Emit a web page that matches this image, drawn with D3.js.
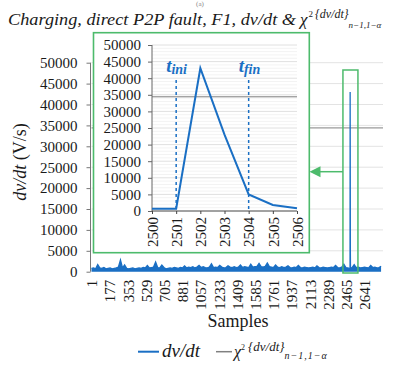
<!DOCTYPE html>
<html>
<head>
<meta charset="utf-8">
<script src="https://cdn.jsdelivr.net/npm/d3@7"></script>
<style>
  html, body { margin: 0; padding: 0; background: #fff; }
</style>
</head>
<body>
<div id="chart"></div>
<script>
// total number of samples on the category axis
const sampleCount = 2810;

// dv/dt noise envelope, one value every 20 samples (1, 21, 41, ...)
const noiseStep = 20;
const noiseValues = [
  800, 900, 700, 1700, 900, 800, 1000, 700, 800, 900,
  700, 800, 900, 1100, 2800, 900, 1600, 800, 700, 800,
  900, 700, 800, 900, 800, 1000, 900, 1500, 900, 1000,
  1100, 2300, 1000, 900, 1600, 1000, 700, 800, 900, 800,
  1000, 900, 800, 1000, 900, 1400, 900, 1100, 1000, 1200,
  900, 1100, 1500, 1000, 1200, 1000, 900, 1100, 1900, 1000,
  1100, 1000, 1500, 1100, 900, 1000, 1400, 1100, 1000, 1200,
  1000, 1100, 1600, 1000, 1200, 1100, 1000, 1800, 1100, 1200,
  1300, 2000, 1200, 1100, 1300, 2100, 1200, 1100, 1000, 1600,
  1100, 1000, 1200, 1000, 1100, 1400, 1000, 900, 1100, 1000,
  1500, 1000, 900, 1100, 1000, 900, 1000, 1100, 900, 1400,
  1000, 900, 1100, 1000, 900, 1000, 1100, 1000, 1500, 1000,
  900, 1100, 1800, 1000, 900, 800, 1000, 1700, 1000, 1100,
  900, 1000, 1100, 1000, 900, 1500, 1000, 1100, 900, 1000,
  1300
];

// fault window (zoomed in the inset)
const faultSamples = [2500, 2501, 2502, 2503, 2504, 2505, 2506];
const faultValues = [700, 700, 43000, 23000, 5000, 1800, 800];

// chi-square threshold
const threshold = 34400;
const tIni = 2501;
const tFin = 2504;

const yTicks = [0, 5000, 10000, 15000, 20000, 25000, 30000, 35000, 40000, 45000, 50000];
const xTickLabels = [1, 177, 353, 529, 705, 881, 1057, 1233, 1409, 1585, 1761, 1937, 2113, 2289, 2465, 2641];
const insetTicks = [2500, 2501, 2502, 2503, 2504, 2505, 2506];

const blue = '#1a6fc4';
const green = '#4dbb6c';
const grey = '#808080';
const serif = '"Liberation Serif", "Times New Roman", serif';
const fmt = d3.format('d');

const svg = d3.select('#chart').append('svg')
  .attr('width', 402)
  .attr('height', 367);

// ---------- main chart ----------
const x = d3.scaleLinear().domain([1, sampleCount]).range([91.5, 382]);
const y = d3.scaleLinear().domain([0, 50000]).range([271.7, 62.7]);

// gridlines
svg.append('g')
  .selectAll('line')
  .data(yTicks.filter(d => d > 0))
  .join('line')
  .attr('x1', x.range()[0]).attr('x2', x.range()[1] + 1)
  .attr('y1', d => y(d)).attr('y2', d => y(d))
  .attr('stroke', '#e3e3e3').attr('stroke-width', 1);

// threshold
svg.append('line')
  .attr('x1', x.range()[0]).attr('x2', x.range()[1] + 1)
  .attr('y1', y(threshold)).attr('y2', y(threshold))
  .attr('stroke', grey).attr('stroke-width', 1);

// merged dv/dt series
const series = noiseValues
  .map((v, i) => ({ s: 1 + i * noiseStep, v }))
  .filter(d => d.s < faultSamples[0] - 5 || d.s > faultSamples[faultSamples.length - 1] + 5)
  .concat(faultSamples.map((s, i) => ({ s, v: faultValues[i] })))
  .sort((a, b) => a.s - b.s);

svg.append('path')
  .datum(series)
  .attr('fill', blue)
  .attr('d', d3.area().x(d => x(d.s)).y0(y(0)).y1(d => y(d.v)));

svg.append('path')
  .datum(series)
  .attr('fill', 'none')
  .attr('stroke', blue)
  .attr('stroke-width', 1.3)
  .attr('d', d3.line().x(d => x(d.s)).y(d => y(d.v)));

// y axis
const yAxisG = svg.append('g').attr('transform', `translate(${x.range()[0] - 1},0)`);
yAxisG.call(d3.axisLeft(y).tickValues(d3.range(0, 50001, 1000)).tickSize(4).tickFormat(''));
yAxisG.call(d3.axisLeft(y).tickValues(yTicks).tickSize(4).tickPadding(9).tickFormat(fmt));
yAxisG.selectAll('line, path').attr('stroke', '#777');
yAxisG.select('.domain').attr('d', `M0,${y(0)}V${y(50000)}`);
yAxisG.selectAll('text').style('font-size', '15px');

// x axis labels
const xAxisG = svg.append('g').attr('transform', `translate(0,${y(0)})`);
xAxisG.call(d3.axisBottom(x).tickValues(xTickLabels).tickSize(0).tickFormat(fmt));
xAxisG.select('.domain').remove();
xAxisG.selectAll('text')
  .attr('transform', 'rotate(-90)')
  .attr('text-anchor', 'end')
  .attr('x', -8).attr('y', 0).attr('dy', '0.35em')
  .style('font-size', '15px');

// axis titles
svg.append('text')
  .attr('x', 238).attr('y', 327)
  .attr('text-anchor', 'middle')
  .style('font-size', '18px')
  .text('Samples');

const yTitle = svg.append('text')
  .attr('transform', 'translate(26,162) rotate(-90)')
  .attr('text-anchor', 'middle')
  .style('font-size', '18px');
yTitle.append('tspan').style('font-style', 'italic').text('dv/dt');
yTitle.append('tspan').text(' (V/s)');

// title
svg.append('text').attr('x', 200).attr('y', 6).attr('text-anchor', 'middle')
  .style('font-size', '7px').style('fill', '#888').text('(a)');
svg.append('text')
  .attr('x', 8).attr('y', 25)
  .attr('textLength', 288).attr('lengthAdjust', 'spacingAndGlyphs')
  .style('font-style', 'italic')
  .style('font-size', '17px')
  .text('Charging, direct P2P fault, F1, dv/dt &');
const title = svg.append('text')
  .attr('x', 300).attr('y', 25)
  .style('font-style', 'italic')
  .style('font-size', '17px');
title.append('tspan').text('χ');
title.append('tspan').attr('dy', -8).attr('dx', 1).style('font-size', '9px').style('font-style', 'normal').text('2');
title.append('tspan').attr('dy', 1).attr('dx', 2).style('font-size', '12px').text('{dv/dt}');
title.append('tspan').attr('dy', 10).style('font-size', '9px').text('n−1,1−α');

// highlight box around the fault and arrow to the inset
svg.append('rect')
  .attr('x', x(faultSamples[0]) - 7).attr('y', 70)
  .attr('width', 15).attr('height', 203)
  .attr('fill', 'none').attr('stroke', green).attr('stroke-width', 1.5);

svg.append('line')
  .attr('x1', x(faultSamples[0]) - 7).attr('x2', 318)
  .attr('y1', 171.7).attr('y2', 171.7)
  .attr('stroke', green).attr('stroke-width', 1.5);
svg.append('path')
  .attr('d', 'M309.5,171.7 L320.5,166.2 L320.5,177.2 Z')
  .attr('fill', green);

// ---------- inset ----------
svg.append('rect')
  .attr('x', 93.5).attr('y', 32.7)
  .attr('width', 215.8).attr('height', 220)
  .attr('fill', '#fff').attr('stroke', green).attr('stroke-width', 1.6);

const ix = d3.scaleLinear().domain([2500, 2506]).range([152, 297]);
const iy = d3.scaleLinear().domain([0, 50000]).range([211, 45]);

svg.append('g')
  .selectAll('line')
  .data(d3.range(1000, 50001, 1000))
  .join('line')
  .attr('x1', ix.range()[0]).attr('x2', ix.range()[1])
  .attr('y1', d => iy(d)).attr('y2', d => iy(d))
  .attr('stroke', d => d % 5000 === 0 ? '#e0e0e0' : '#f3f3f3')
  .attr('stroke-width', 1);

svg.append('line')
  .attr('x1', ix.range()[0]).attr('x2', ix.range()[1])
  .attr('y1', iy(threshold)).attr('y2', iy(threshold))
  .attr('stroke', grey).attr('stroke-width', 1);

const iyAxis = svg.append('g').attr('transform', `translate(${ix.range()[0]},0)`);
iyAxis.call(d3.axisLeft(iy).tickValues(d3.range(0, 50001, 1000)).tickSize(4).tickFormat(''));
iyAxis.call(d3.axisLeft(iy).tickValues(yTicks).tickSize(4).tickPadding(7).tickFormat(fmt));
iyAxis.selectAll('line, path').attr('stroke', '#666');
iyAxis.select('.domain').attr('d', `M0,${iy(0)}V${iy(50000)}`);
iyAxis.selectAll('text').style('font-size', '15px');

const ixAxis = svg.append('g').attr('transform', `translate(0,${iy(0)})`);
ixAxis.call(d3.axisBottom(ix).tickValues(insetTicks).tickSize(3).tickFormat(fmt));
ixAxis.selectAll('line, path').attr('stroke', '#444');
ixAxis.select('.domain').attr('d', `M${ix.range()[0]},0H${ix.range()[1]}`);
ixAxis.selectAll('text')
  .attr('transform', 'rotate(-90)')
  .attr('text-anchor', 'end')
  .attr('x', -6).attr('y', 0).attr('dy', '0.35em')
  .style('font-size', '15px');

// t_ini / t_fin markers
[{ s: tIni, sub: 'ini' }, { s: tFin, sub: 'fin' }].forEach(m => {
  svg.append('line')
    .attr('x1', ix(m.s)).attr('x2', ix(m.s))
    .attr('y1', 80).attr('y2', iy(0))
    .attr('stroke', blue).attr('stroke-width', 1.5)
    .attr('stroke-dasharray', '3,3');
  const t = svg.append('text')
    .attr('x', ix(m.s) - 10).attr('y', 71.5)
    .style('font-style', 'italic')
    .style('font-weight', 'bold')
    .style('fill', blue)
    .style('font-size', '19px');
  t.append('tspan').text('t');
  t.append('tspan').attr('dy', 2).style('font-size', '14px').text(m.sub);
});

svg.append('path')
  .datum(faultSamples.map((s, i) => ({ s, v: faultValues[i] })))
  .attr('fill', 'none')
  .attr('stroke', blue)
  .attr('stroke-width', 2)
  .attr('d', d3.line().x(d => ix(d.s)).y(d => iy(d.v)));

// ---------- legend ----------
const legend = svg.append('g');
legend.append('line')
  .attr('x1', 138).attr('x2', 159).attr('y1', 351.7).attr('y2', 351.7)
  .attr('stroke', blue).attr('stroke-width', 2);
legend.append('text')
  .attr('x', 162).attr('y', 357)
  .style('font-style', 'italic').style('font-size', '19px')
  .text('dv/dt');
legend.append('line')
  .attr('x1', 216).attr('x2', 232).attr('y1', 351.7).attr('y2', 351.7)
  .attr('stroke', grey).attr('stroke-width', 1.5);
const lg = legend.append('text')
  .attr('x', 234).attr('y', 357)
  .style('font-style', 'italic').style('font-size', '16px');
lg.append('tspan').text('χ');
lg.append('tspan').attr('dy', -7).style('font-size', '8px').style('font-style', 'normal').text('2');
lg.append('tspan').attr('dy', 1).attr('dx', 3).style('font-size', '13px').text('{dv/dt}');
lg.append('tspan').attr('dy', 8).style('font-size', '10px').style('letter-spacing', '1px').text('n−1,1−α');

// serif face on every label (the axis groups carry their own sans-serif default)
svg.selectAll('g').style('font-family', serif);
svg.selectAll('text').style('font-family', serif).style('fill', function () {
  return this.style.fill || '#1a1a1a';
});
</script>
</body>
</html>
